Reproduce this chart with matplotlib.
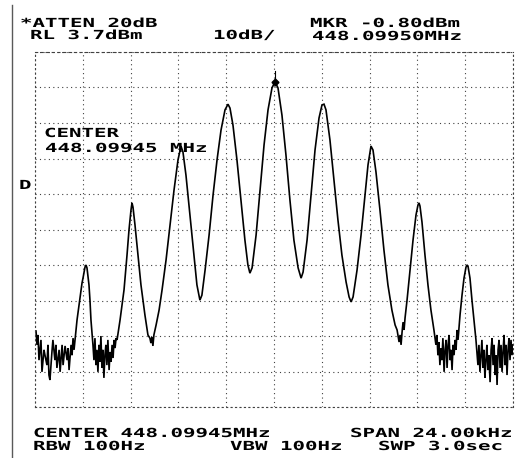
import matplotlib
matplotlib.use('Agg')
import matplotlib.pyplot as plt
import numpy as np
from matplotlib.patheffects import AbstractPathEffect
from matplotlib.transforms import Affine2D
from matplotlib.lines import Line2D

# ---------------- data (frequency offset from centre, kHz ; level, dBm) -------------
ref_level = 3.7
db_per_div = 10
span_khz = 24.0

freq_khz = [
    -11.95, -11.90, -11.85, -11.80, -11.70, -11.65, -11.55, -11.50, -11.40, -11.35,
    -11.30, -11.25, -11.15, -11.10, -11.00, -10.95, -10.90, -10.79, -10.74, -10.64,
    -10.59, -10.49, -10.39, -10.34, -10.29, -10.19, -10.14, -10.09, -10.04, -9.99,
    -9.89, -9.79, -9.69, -9.64, -9.59, -9.49, -9.44, -9.39, -9.29, -9.24, -9.19, -9.09,
    -9.04, -8.99, -8.94, -8.89, -8.84, -8.79, -8.74, -8.69, -8.64, -8.59, -8.54, -8.49,
    -8.44, -8.39, -8.34, -8.28, -8.23, -8.18, -8.13, -8.08, -8.03, -7.98, -7.93, -7.88,
    -7.73, -7.53, -7.38, -7.28, -7.18, -7.13, -7.08, -6.98, -6.83, -6.68, -6.48, -6.33,
    -6.23, -6.18, -6.13, -6.08, -6.03, -5.92, -5.77, -5.62, -5.42, -5.22, -5.02, -4.82,
    -4.67, -4.57, -4.42, -4.22, -4.02, -3.87, -3.72, -3.62, -3.46, -3.26, -3.06, -2.86,
    -2.66, -2.46, -2.31, -2.21, -2.06, -1.86, -1.66, -1.46, -1.31, -1.21, -1.10, -0.90,
    -0.70, -0.50, -0.30, -0.10, 0.05, 0.20, 0.40, 0.60, 0.80, 1.00, 1.21, 1.36, 1.46,
    1.66, 1.86, 2.06, 2.26, 2.41, 2.51, 2.61, 2.81, 3.01, 3.21, 3.41, 3.62, 3.77, 3.87,
    3.97, 4.17, 4.37, 4.57, 4.72, 4.87, 4.97, 5.12, 5.32, 5.52, 5.72, 5.92, 6.08, 6.18,
    6.28, 6.33, 6.38, 6.43, 6.48, 6.53, 6.58, 6.68, 6.83, 6.98, 7.13, 7.23, 7.28, 7.33,
    7.43, 7.58, 7.73, 7.88, 8.03, 8.13,
    8.18, 8.23, 8.28, 8.33, 8.38, 8.43, 8.48, 8.54, 8.59, 8.64, 8.69, 8.74, 8.79, 8.84,
    8.89, 8.94, 8.99, 9.04, 9.09, 9.14, 9.19, 9.24,
    9.34, 9.44, 9.54, 9.64, 9.69, 9.74, 9.84, 9.94, 10.04, 10.14, 10.19,
    10.24, 10.29, 10.34, 10.39, 10.44, 10.49, 10.54, 10.59, 10.64, 10.69, 10.74, 10.79,
    10.85, 10.90, 10.95, 11.00, 11.05, 11.10, 11.15, 11.20, 11.25, 11.30, 11.35, 11.40,
    11.45, 11.50, 11.55, 11.60, 11.65, 11.70, 11.75, 11.80, 11.85, 11.90, 11.95, 12.00,
]

level_dbm = [
    -74.9, -78.8, -76.0, -83.1, -77.4, -86.4, -80.2, -81.7, -84.5, -78.8,
    -87.3, -88.7, -80.8, -77.4, -83.1, -78.8, -85.3, -80.2, -86.4, -78.8,
    -84.5, -79.1, -83.1, -79.7, -85.9, -78.8, -81.7, -76.9, -80.2, -77.4,
    -71.8, -67.6, -63.3, -61.4, -60.0, -56.9, -56.3, -57.1, -61.9, -66.2, -71.8, -78.8,
    -83.1, -76.9, -84.5, -80.2, -86.4, -78.8, -83.6, -76.3, -85.3, -80.2, -88.1, -81.7,
    -78.8, -84.5, -77.4, -85.9, -80.8, -83.6, -78.8, -82.5, -77.4, -79.7, -76.9, -77.4,
    -71.8, -63.3, -53.5, -46.4, -40.8, -38.8, -40.0, -45.0, -53.5, -61.9, -70.4, -76.0,
    -76.9, -78.3, -76.6, -79.1, -76.0, -73.2, -69.0, -63.3, -54.9, -45.0, -35.2, -26.7,
    -22.8, -24.5, -31.0, -42.2, -53.5, -61.9, -66.2, -64.8, -57.7, -47.9, -36.6, -26.7,
    -18.3, -12.6, -11.0, -12.1, -16.9, -26.7, -38.0, -49.3, -56.3, -58.6, -57.1, -47.9,
    -35.2, -22.5, -12.6, -6.4, -4.7, -6.4, -14.1, -25.3, -38.0, -49.3, -57.1, -60.0, -58.3,
    -49.3, -36.6, -23.9, -14.9, -11.2, -11.0, -12.6, -21.1, -32.4, -43.6, -53.5, -61.1, -65.3,
    -66.7, -65.3, -57.7, -47.9, -36.6, -28.1, -22.8, -23.9, -30.1, -40.8, -52.1, -61.9, -69.0,
    -73.2, -74.6, -78.0, -76.0, -78.8, -75.2, -72.4, -74.6, -71.2, -66.2, -57.7, -49.3, -42.2,
    -39.4, -38.8, -39.7, -44.2, -53.5, -61.9, -69.0, -74.6, -78.8,
    -76.0, -81.7, -78.0, -84.5, -79.7, -83.1, -76.9, -86.4, -80.2, -77.4, -85.3, -78.8, -76.0,
    -83.1, -80.2, -85.9, -78.8, -81.7, -77.4, -80.2, -74.6, -77.4,
    -70.4, -64.8, -60.0, -56.9, -56.3, -56.6, -60.0, -66.2, -71.8, -77.4, -80.8,
    -84.5, -78.8, -86.4, -81.7, -77.4, -85.3, -80.2, -88.1, -83.1, -78.8, -85.9, -81.7,
    -89.3, -80.2, -76.9, -84.5, -78.8, -87.3, -81.7, -90.1, -80.2, -77.4, -85.3, -78.8,
    -86.4, -80.8, -76.0, -84.5, -78.8, -87.3, -80.2, -76.9, -83.1, -77.4, -81.7, -78.8,
]

marker_khz = 0.05
marker_dbm = -4.7

# ---------------- text ----------------
labels = [
    # text, left px, baseline px
    ("*ATTEN 20dB", 20, 27),
    ("RL 3.7dBm", 30, 39),
    ("10dB/", 213, 39),
    ("MKR -0.80dBm", 310, 27),
    ("448.09950MHz", 312, 40),
    ("CENTER", 44, 137),
    ("448.09945 MHz", 45, 152),
    ("D", 19, 189),
    ("CENTER 448.09945MHz", 33, 437),
    ("SPAN 24.00kHz", 350, 437),
    ("RBW 100Hz", 33, 450),
    ("VBW 100Hz", 230, 450),
    ("SWP 3.0sec", 378, 450),
]


class HStretch(AbstractPathEffect):
    """Draw text glyphs stretched horizontally (plotter-style wide font)."""
    def __init__(self, sx):
        super().__init__()
        self.sx = sx

    def draw_path(self, renderer, gc, tpath, affine, rgbFace=None):
        renderer.draw_path(gc, tpath, Affine2D().scale(self.sx, 1.0) + affine, rgbFace)


W, H = 521, 458
fig = plt.figure(figsize=(W / 100, H / 100), dpi=100)
fig.patch.set_facecolor('white')

left, right, top, bottom = 35, 513, 52, 407
ax = fig.add_axes([left / W, 1 - bottom / H, (right - left) / W, (bottom - top) / H])

ax.set_xlim(-span_khz / 2, span_khz / 2)
ax.set_ylim(ref_level - 10 * db_per_div, ref_level)
ax.set_xticks(np.linspace(-span_khz / 2, span_khz / 2, 11))
ax.set_yticks(np.linspace(ref_level - 10 * db_per_div, ref_level, 11))
ax.tick_params(length=0, labelbottom=False, labelleft=False)
grid_style = dict(color='0.25', linestyle=(0, (1, 3)), linewidth=0.8)
ax.grid(True, **grid_style)
for sp in ax.spines.values():
    sp.set_linestyle((0, (1, 3)))
    sp.set_color('0.25')
    sp.set_linewidth(0.8)
ax.spines['top'].set_linestyle((0, (2, 3)))

ax.plot(freq_khz, level_dbm, color='black', linewidth=1.2, solid_joinstyle='miter')
ax.plot([marker_khz, marker_khz], [marker_dbm, marker_dbm + 3.0], color='black', linewidth=0.8)
ax.plot([marker_khz], [marker_dbm], marker='D', markersize=3.5, color='black')

# left border line of the printout
fig.add_artist(Line2D([12 / W, 12 / W], [0, 1 - 5 / H], color='0.35', linewidth=1.0))

fs = 9
em_px = fs * 100 / 72
advance = 0.602 * em_px
sx = 12.5 / advance
for txt, xp, yp in labels:
    fig.text(xp / W, 1 - yp / H, txt, fontsize=fs, family='DejaVu Sans Mono',
             fontweight='bold', ha='left', va='baseline', color='black',
             path_effects=[HStretch(sx)])

fig.savefig('out.png', dpi=100, facecolor='white')
